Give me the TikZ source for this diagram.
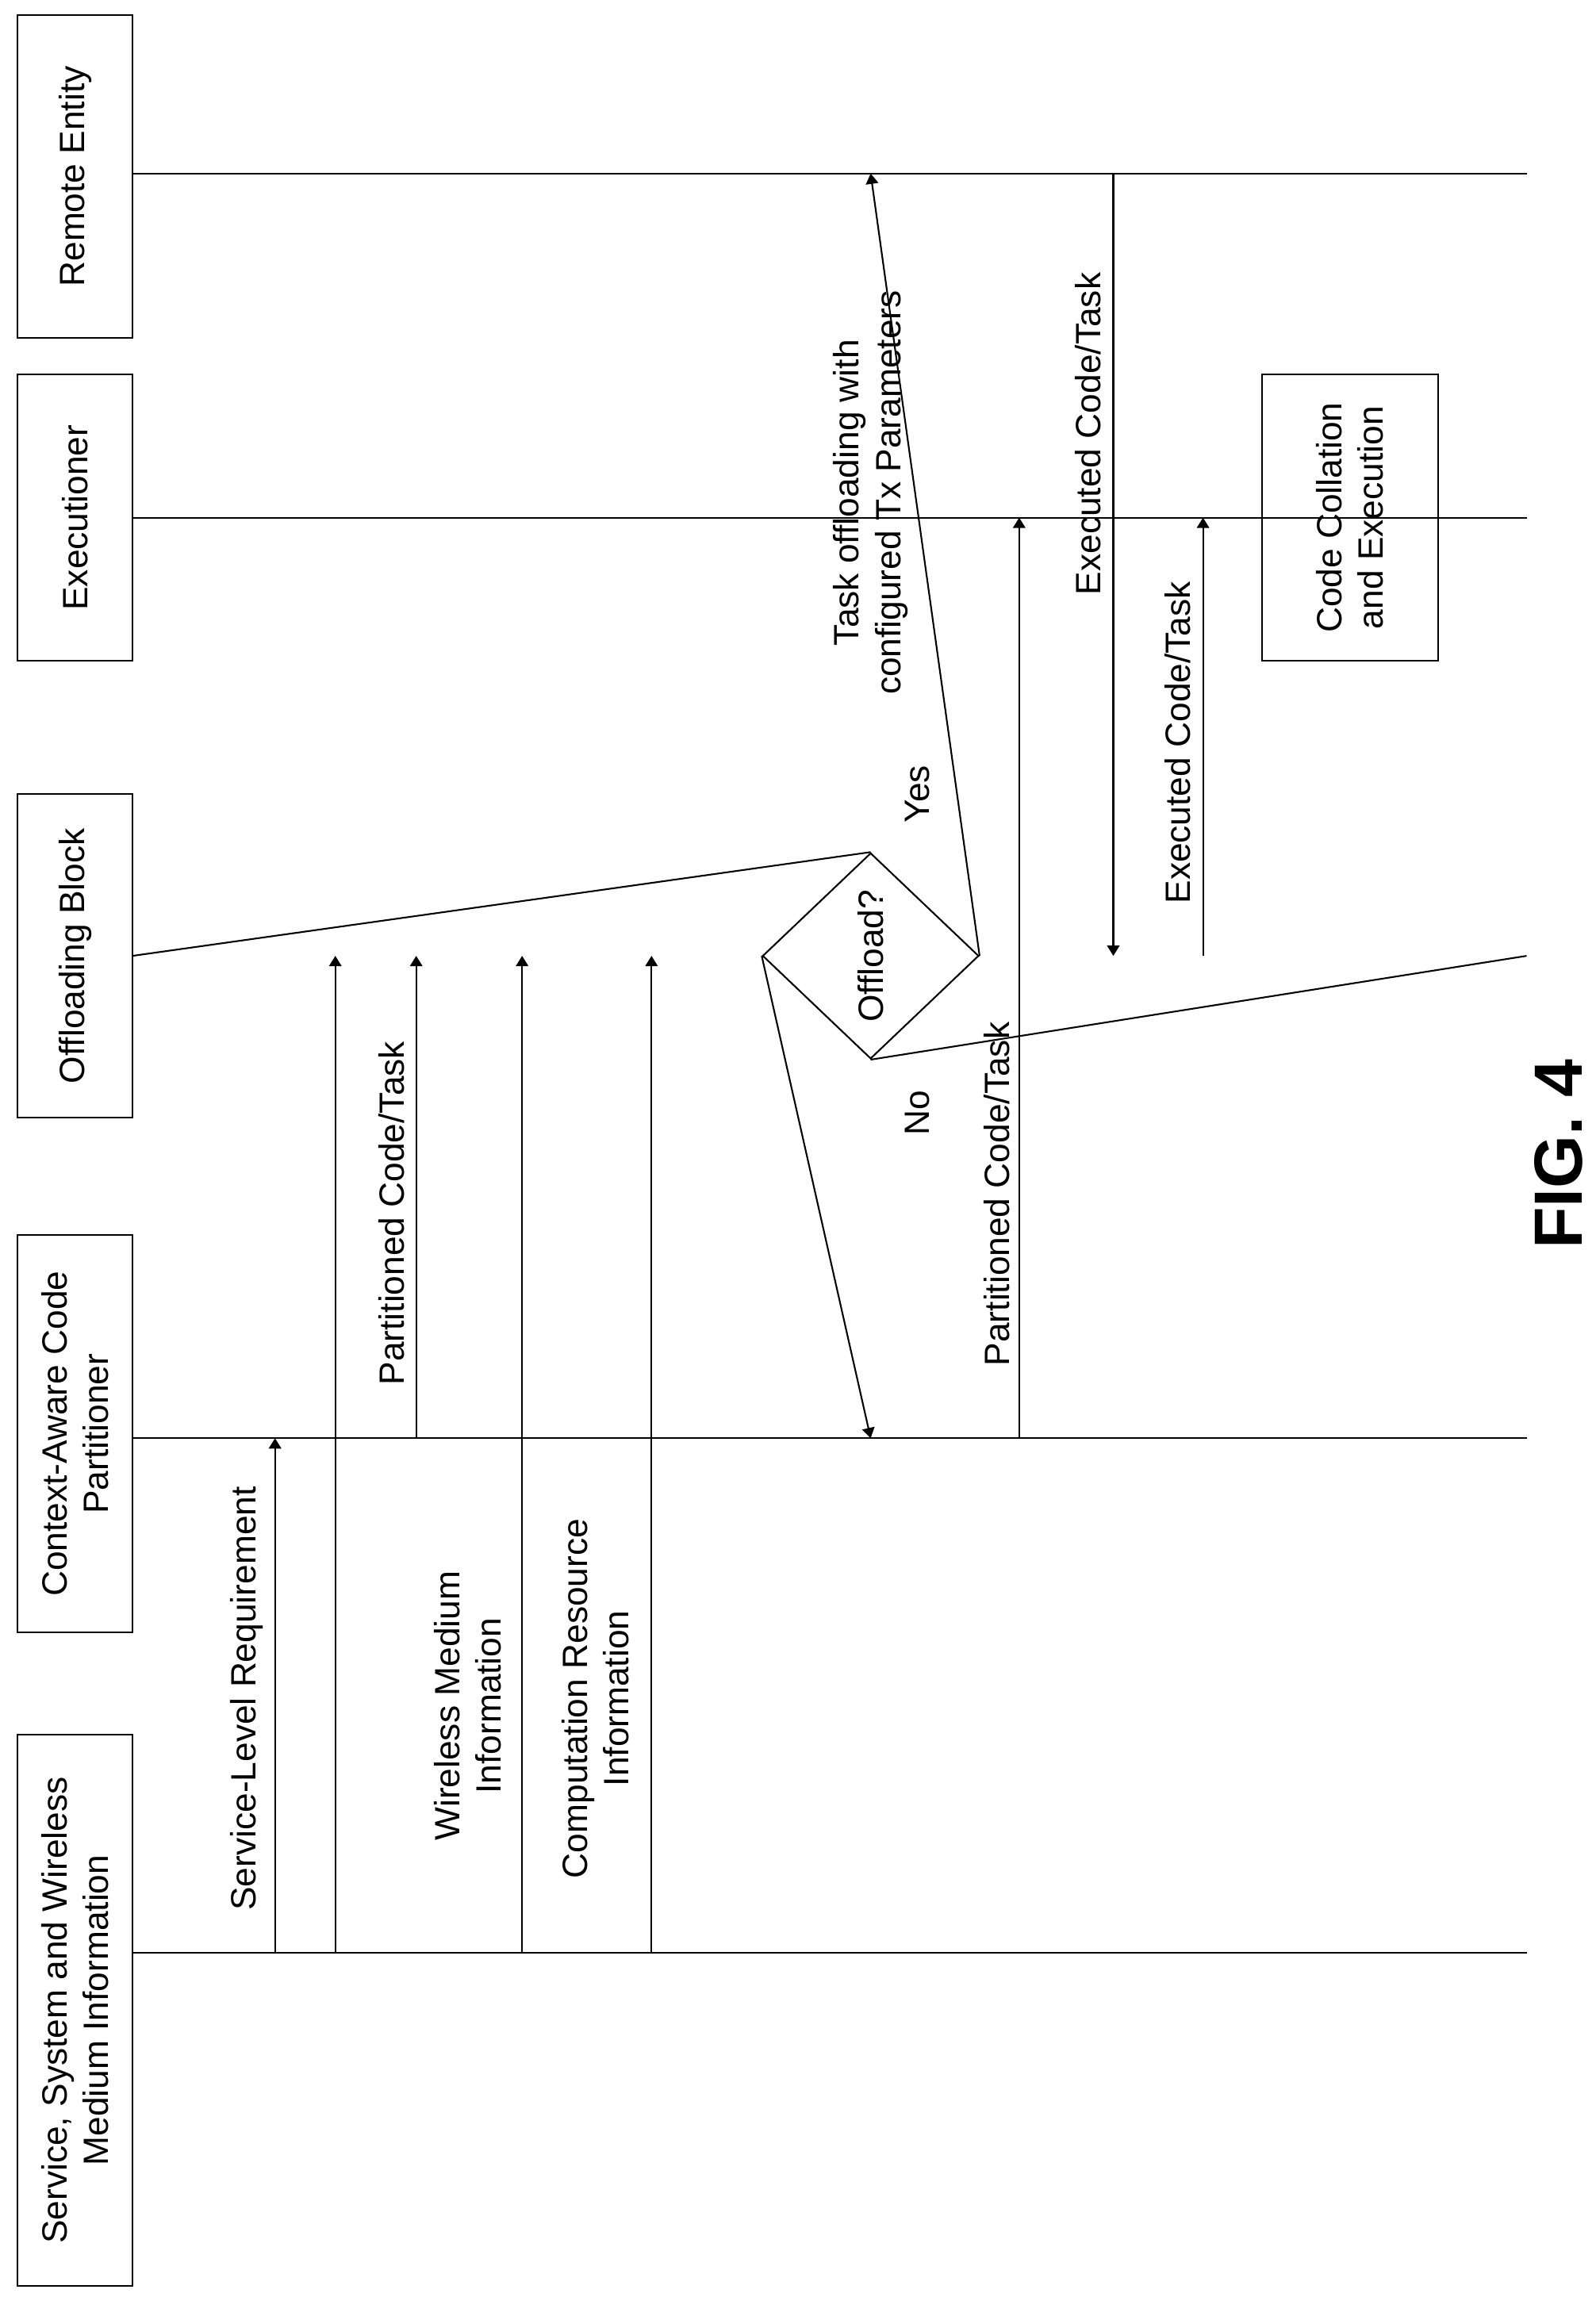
\documentclass[tikz,border=0pt]{standalone}
\usepackage{fontspec}
\setmainfont{Liberation Sans}
\usetikzlibrary{shapes.geometric,arrows.meta}
\begin{document}
\begin{tikzpicture}[x=0.05cm,y=-0.05cm,line width=1.6pt,
  txt/.style={rotate=90,font=\fontsize{34}{40}\selectfont,align=center,inner sep=0},
  box/.style={draw,rotate=90,font=\fontsize{34}{40}\selectfont,align=center,inner sep=0,minimum height=78*0.05cm},
  msg/.style={-{Triangle[width=12pt,length=10pt]}}]
\useasboundingbox (0,0) rectangle (1085,1562);
% header boxes
\node[box,minimum width=220*0.05cm] (re) at (51,120) {Remote Entity};
\node[box,minimum width=195*0.05cm] (ex) at (51,352) {Executioner};
\node[box,minimum width=220*0.05cm] (ob) at (51,650) {Offloading Block};
\node[box,minimum width=270*0.05cm] (cp) at (51,975) {Context-Aware Code\\Partitioner};
\node[box,minimum width=375*0.05cm] (ss) at (51,1367) {Service, System and Wireless\\Medium Information};
% lifelines
\coordinate (reL) at (90,118); \coordinate (reR) at (1038,118);
\coordinate (exL) at (90,352); \coordinate (exR) at (1038,352);
\coordinate (obL) at (90,650); \coordinate (obR) at (1038,650);
\coordinate (cpL) at (90,978); \coordinate (cpR) at (1038,978);
\coordinate (ssL) at (90,1328); \coordinate (ssR) at (1038,1328);
\draw (reL) -- (reR);
\draw (exL) -- (exR);
\draw (cpL) -- (cpR);
\draw (ssL) -- (ssR);
\node[draw,diamond,aspect=1,minimum width=147*0.05cm,minimum height=140*0.05cm,inner sep=0] (dec) at (592,650) {};
\node[txt] at (dec.center) {Offload?};
\draw (obL) -- (dec.north); % left point in picture
\draw (dec.south) -- (obR);
% messages
\coordinate (a1) at (187,1328); \coordinate (b1) at (187,978);
\draw[msg] (a1) -- (b1);
\node[txt] at (168,1155) {Service-Level Requirement};
\coordinate (a2) at (228,1328); \coordinate (b2) at (228,650);
\draw[msg] (a2) -- (b2);
\node[txt] at (318,1160) {Wireless Medium\\Information};
\coordinate (a3) at (283,978); \coordinate (b3) at (283,650);
\draw[msg] (a3) -- (b3);
\node[txt] at (266,825) {Partitioned Code/Task};
\coordinate (a4) at (355,1328); \coordinate (b4) at (355,650);
\draw[msg] (a4) -- (b4);
\coordinate (a5) at (443,1328); \coordinate (b5) at (443,650);
\draw[msg] (a5) -- (b5);
\node[txt] at (405,1155) {Computation Resource\\Information};
% decision outputs
\coordinate (yes) at (592,118);
\draw[msg] (dec.east) -- (yes);
\node[txt] at (592,335) {Task offloading with\\configured Tx Parameters};
\node[txt] at (624,540) {Yes};
\coordinate (no) at (592,978);
\draw[msg] (dec.west) -- (no);
\node[txt] at (624,757) {No};
\coordinate (a6) at (693,978); \coordinate (b6) at (693,352);
\draw[msg] (a6) -- (b6);
\node[txt] at (678,812) {Partitioned Code/Task};
\coordinate (a7) at (757,118); \coordinate (b7) at (757,650);
\draw[msg] (a7) -- (b7);
\node[txt] at (740,295) {Executed Code/Task};
\coordinate (a8) at (818,650); \coordinate (b8) at (818,352);
\draw[msg] (a8) -- (b8);
\node[txt] at (801,505) {Executed Code/Task};
\node[box,minimum width=195*0.05cm,minimum height=120*0.05cm] (cc) at (918,352) {Code Collation\\and Execution};
\node[rotate=90,font=\fontsize{66}{72}\selectfont\bfseries,inner sep=0] (fig) at (1060,785) {FIG. 4};
\end{tikzpicture}
\end{document}
